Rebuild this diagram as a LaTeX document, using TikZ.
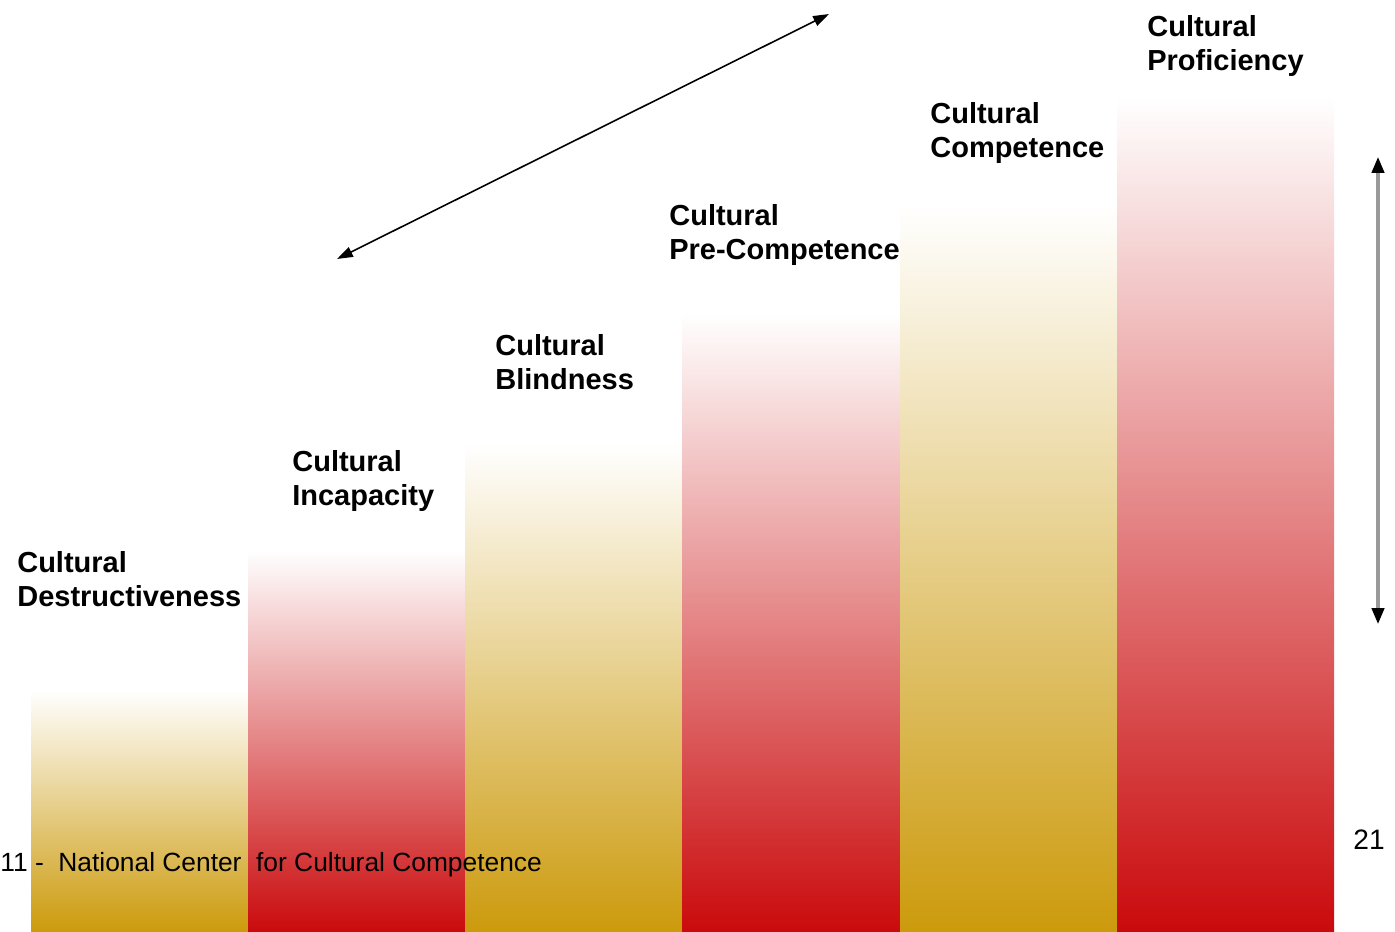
\documentclass[tikz,border=0pt]{standalone}
\usepackage{fontspec}
\setmainfont{Liberation Sans}
\usetikzlibrary{arrows.meta}

\definecolor{barGold}{RGB}{204,154,12}
\definecolor{barRed}{RGB}{202,10,12}

\begin{document}
\begin{tikzpicture}[x={(0.02cm,0)}, y={(0,-0.02cm)},
  goldbar/.style={top color=white, bottom color=barGold, draw=none},
  redbar/.style={top color=white, bottom color=barRed, draw=none},
  stage/.style={anchor=north west, inner sep=0pt, align=left,
    font=\fontsize{16.5}{19.4}\selectfont\bfseries},
  twoway/.style={{Triangle[length=9pt,width=6pt]}-{Triangle[length=9pt,width=6pt]}}]
\useasboundingbox (0,0) rectangle (1395,932);

% bars, white at the top
\shade[goldbar] (31,690) rectangle (248,932);
\shade[redbar]  (248,550) rectangle (465,932);
\shade[goldbar] (465,443) rectangle (682,932);
\shade[redbar]  (682,313) rectangle (900,932);
\shade[goldbar] (900,205) rectangle (1117,932);
\shade[redbar]  (1117,97) rectangle (1334,932);

% stage labels
\node[stage] (destr) at (17,551) {Cultural\\Destructiveness};
\node[stage] (incap) at (292,450) {Cultural\\Incapacity};
\node[stage] (blind) at (495,334) {Cultural\\Blindness};
\node[stage] (precomp) at (669,204) {Cultural\\Pre-Competence};
\node[stage] (comp) at (930,102) {Cultural\\Competence};
\node[stage] (prof) at (1147,15) {Cultural\\Proficiency};

% arrows
\coordinate (diagLow) at (337,259);
\coordinate (diagHigh) at (829,14);
\draw[twoway, line width=0.9pt] (diagLow) -- (diagHigh);
\coordinate (vertTop) at (1378,157);
\coordinate (vertBot) at (1378,624);
\draw[draw=gray!80, line width=1.8pt,
  arrows={Triangle[color=black,length=9pt,width=7pt]-Triangle[color=black,length=9pt,width=7pt]}]
  (vertTop) -- (vertBot);

% footer
\node[anchor=west, inner sep=0pt, font=\fontsize{15}{18}\selectfont] (foot) at (0,865)
  {11 -\ \ National Center\ \ for Cultural Competence};
\node[inner sep=0pt, font=\fontsize{16}{19}\selectfont] (pagenum) at (1369,840) {21};
\end{tikzpicture}
\end{document}
